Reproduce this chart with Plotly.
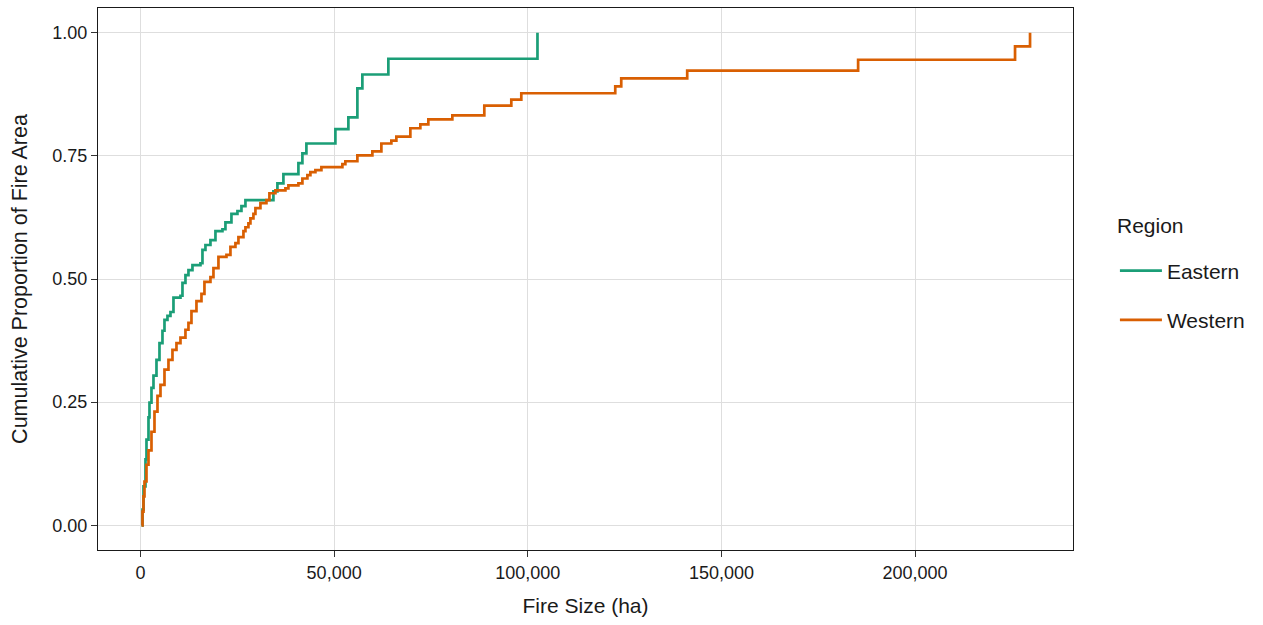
import plotly.graph_objects as go

# Eastern region: fire size (ha) and cumulative proportion of fire area
eastern_size = [250, 516, 774, 1290, 1548, 2065, 2323, 2839, 3355, 4129, 4903, 5677,
                6194, 6968, 7742, 8516, 10323, 10839, 11613, 12387, 13419, 15484, 16000,
                16774, 18065, 19355, 21161, 21935, 23484, 25032, 26065, 27097, 34323,
                35355, 36903, 40774, 41806, 42839, 50323, 53677, 56000, 57290, 64000,
                102500]
eastern_cum = [0.0, 0.032, 0.079, 0.134, 0.174, 0.219, 0.249, 0.279, 0.304, 0.336, 0.370,
               0.395, 0.417, 0.425, 0.433, 0.462, 0.466, 0.492, 0.508, 0.518, 0.528, 0.532,
               0.559, 0.569, 0.579, 0.597, 0.601, 0.615, 0.632, 0.638, 0.648, 0.660, 0.678,
               0.694, 0.713, 0.735, 0.755, 0.775, 0.804, 0.828, 0.887, 0.915, 0.947, 1.0]

# Western region
western_size = [250, 516, 774, 1032, 1548, 2065, 2839, 3613, 4387, 5161, 6194, 7226, 8258,
                9290, 10323, 11613, 12387, 13161, 14452, 15742, 16516, 18065, 18839, 20129,
                22194, 23226, 24516, 25290, 26581, 27097, 27871, 28387, 29161, 29677, 30968,
                32516, 33290, 34839, 37419, 38194, 40774, 41806, 43097, 43871, 45161, 46710,
                52129, 52903, 56000, 59871, 62194, 64774, 66065, 69677, 72258, 74323, 80516,
                88774, 95742, 98323, 122581, 124129, 141161, 185290, 225806, 229677]
western_cum = [0.0, 0.028, 0.059, 0.089, 0.123, 0.152, 0.190, 0.231, 0.263, 0.285, 0.316,
               0.336, 0.356, 0.370, 0.381, 0.397, 0.411, 0.435, 0.455, 0.470, 0.494, 0.504,
               0.522, 0.545, 0.549, 0.565, 0.573, 0.585, 0.597, 0.605, 0.613, 0.623, 0.632,
               0.644, 0.654, 0.660, 0.674, 0.680, 0.684, 0.690, 0.694, 0.704, 0.711, 0.717,
               0.721, 0.727, 0.733, 0.739, 0.751, 0.759, 0.775, 0.781, 0.789, 0.806, 0.814,
               0.824, 0.832, 0.852, 0.864, 0.877, 0.891, 0.907, 0.923, 0.945, 0.972, 1.0]

x_ticks = [0, 50000, 100000, 150000, 200000]
x_tick_labels = ["0", "50,000", "100,000", "150,000", "200,000"]
y_ticks = [0, 0.25, 0.5, 0.75, 1.0]
y_tick_labels = ["0.00", "0.25", "0.50", "0.75", "1.00"]
legend_title = "Region"

FONT = "Liberation Sans, Arial, Helvetica, sans-serif"
TXT = "#1a1a1a"

fig = go.Figure()
fig.add_trace(go.Scatter(x=eastern_size, y=eastern_cum, mode="lines", name="Eastern",
                         line=dict(color="#1B9E77", width=2.7, shape="hv"),
                         legendgroup="e"))
fig.add_trace(go.Scatter(x=western_size, y=western_cum, mode="lines", name="Western",
                         line=dict(color="#D95F02", width=2.7, shape="hv"),
                         legendgroup="w"))

fig.add_annotation(text=legend_title, xref="paper", yref="paper",
                   x=1.0431, y=0.5978, xanchor="left", yanchor="middle",
                   showarrow=False, font=dict(size=21, color=TXT))

fig.update_layout(
    width=1263, height=625,
    margin=dict(l=98, r=190, t=8, b=75),
    paper_bgcolor="white", plot_bgcolor="white",
    font=dict(family=FONT, color=TXT),
    showlegend=True,
    legend=dict(
        font=dict(size=21, color=TXT),
        x=1.043, y=0.5526, xanchor="left", yanchor="top",
        tracegroupgap=19, itemwidth=42,
        bgcolor="rgba(0,0,0,0)",
    ),
    xaxis=dict(
        range=[-10970, 240770],
        tickvals=x_ticks, ticktext=x_tick_labels,
        tickfont=dict(size=18, color=TXT),
        ticks="outside", ticklen=6, tickcolor="#333333", tickwidth=1,
        showgrid=True, gridcolor="#DEDEDE", gridwidth=1,
        zeroline=False,
        showline=True, mirror=True, linecolor="#1a1a1a", linewidth=1.2,
        title=dict(text="Fire Size (ha)", font=dict(size=21, color=TXT), standoff=16),
    ),
    yaxis=dict(
        range=[-0.05, 1.05],
        tickvals=y_ticks, ticktext=y_tick_labels,
        tickfont=dict(size=18, color=TXT),
        ticks="outside", ticklen=6, tickcolor="#333333", tickwidth=1,
        showgrid=True, gridcolor="#DEDEDE", gridwidth=1,
        zeroline=False,
        showline=True, mirror=True, linecolor="#1a1a1a", linewidth=1.2,
        title=dict(text="Cumulative Proportion of Fire Area", font=dict(size=21.5, color=TXT),
                   standoff=18),
    ),
)

fig.write_html("out.html")
